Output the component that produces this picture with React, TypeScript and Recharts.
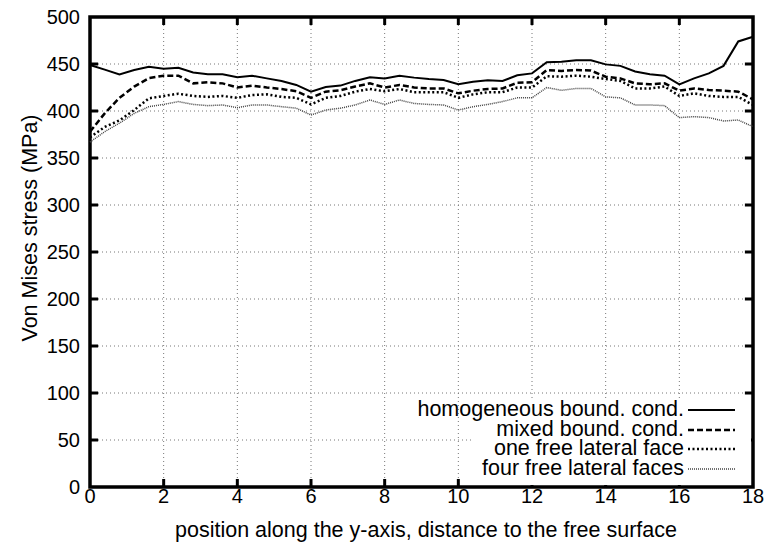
import React from "react";
import {
  LineChart,
  Line,
  XAxis,
  YAxis,
  CartesianGrid,
  ReferenceArea,
  ReferenceLine,
} from "recharts";

// positions along the y-axis (sampling of the curves)
const positions = [
  0, 0.4, 0.8, 1.2, 1.6, 2.0, 2.4, 2.8, 3.2, 3.6, 4.0, 4.4, 4.8, 5.2, 5.6, 6.0,
  6.4, 6.8, 7.2, 7.6, 8.0, 8.4, 8.8, 9.2, 9.6, 10.0, 10.4, 10.8, 11.2, 11.6,
  12.0, 12.4, 12.8, 13.2, 13.6, 14.0, 14.4, 14.8, 15.2, 15.6, 16.0, 16.4, 16.8,
  17.2, 17.6, 18.0,
];

const homogeneous = [
  449, 444, 439, 443.6, 447, 445, 446, 441, 439, 439, 436, 437.5, 434.7, 432,
  427.7, 420.6, 425.5, 427, 432, 436, 434.7, 437.6, 435.5, 434, 433, 428.4, 431,
  432.6, 432, 438, 440, 451.8, 452.5, 454, 454, 449.6, 448, 442, 439, 437.6,
  428.4, 434.7, 440, 448, 474, 479,
];

const mixed = [
  378, 397.5, 414, 426, 435, 437.6, 437.6, 429.4, 430.5, 429.4, 425, 427, 425,
  423.4, 421, 414, 420.6, 422, 426, 429.4, 425, 427.7, 425, 424, 424, 418.8,
  421.6, 423.4, 424, 430, 430.5, 443.6, 442.6, 443.6, 443, 436.5, 434.7, 429.4,
  428.4, 429.4, 421.6, 424, 422.3, 421.6, 420.6, 412.4,
];

const oneFree = [
  372, 383, 390, 401, 413.5, 416, 418.4, 416, 415, 416, 414, 417, 417.7, 415,
  414, 407, 414, 416, 420.6, 423.4, 421, 423.4, 420, 420, 420, 414, 417.7, 420,
  420, 425, 425, 437, 436.5, 437.6, 436.5, 434, 432, 424, 424, 426, 416, 418.8,
  416, 415, 415, 406.4,
];

const fourFree = [
  367, 378, 387, 397.5, 404.6, 407, 410, 407, 405.7, 406.4, 403.5, 406.4, 406.4,
  404.6, 403, 395.7, 401, 403, 406.4, 411.7, 407, 411.7, 408, 407, 406.4, 401,
  404.6, 407, 410, 414, 414, 425, 422, 424, 424, 415, 414, 406.4, 406.4, 405.7,
  393, 394, 393, 389.4, 390.4, 383.3,
];

const xTicks = [0, 2, 4, 6, 8, 10, 12, 14, 16, 18];
const yTicks = [0, 50, 100, 150, 200, 250, 300, 350, 400, 450, 500];

const seriesNames = [
  "homogeneous bound. cond.",
  "mixed bound. cond.",
  "one free lateral face",
  "four free lateral faces",
];

const FONT = "'Liberation Sans', Arial, Helvetica, sans-serif";
const TICK = { fill: "#000", fontSize: 20, fontFamily: FONT };
const LABEL_SIZE = 21.5;

const data = positions.map((x, i) => ({
  x,
  homogeneous: homogeneous[i],
  mixed: mixed[i],
  oneFree: oneFree[i],
  fourFree: fourFree[i],
}));

const LINE_STYLES = [
  { key: "homogeneous", stroke: "#000", width: 2, dash: undefined },
  { key: "mixed", stroke: "#000", width: 2.5, dash: "6 3" },
  { key: "oneFree", stroke: "#000", width: 2.5, dash: "2 2.5" },
  { key: "fourFree", stroke: "#444", width: 1.5, dash: "1 1" },
];

// key box: white patch over the grid, text right-aligned against the samples
function LegendBox() {
  return (
    <>
      <div
        style={{ position: "absolute", left: 472, top: 400, width: 279, height: 85, background: "#fff" }}
      />
      <div
        style={{
          position: "absolute",
          left: 300,
          top: 400,
          width: 450,
          fontFamily: FONT,
          fontSize: LABEL_SIZE,
          color: "#000",
        }}
      >
        {seriesNames.map((name, i) => (
          <div key={name} style={{ display: "flex", alignItems: "center", height: 19.5 }}>
            <div style={{ width: 384, textAlign: "right", whiteSpace: "nowrap", lineHeight: "19.5px" }}>
              {name}
            </div>
            <svg width={50} height={19} style={{ marginLeft: 4, flexShrink: 0 }}>
              <line
                x1={0}
                x2={47}
                y1={10}
                y2={10}
                stroke={LINE_STYLES[i].stroke}
                strokeWidth={LINE_STYLES[i].width}
                strokeDasharray={LINE_STYLES[i].dash}
              />
            </svg>
          </div>
        ))}
      </div>
    </>
  );
}

export default function App() {
  return (
    <div style={{ position: "absolute", left: 0, top: 0, width: 767, height: 545, background: "#fff" }}>
      <LineChart
        width={767}
        height={545}
        data={data}
        margin={{ top: 17, right: 14, bottom: 0, left: 0 }}
      >
        <CartesianGrid stroke="#777" strokeDasharray="1 3" />
        <XAxis
          dataKey="x"
          type="number"
          domain={[0, 18]}
          ticks={xTicks}
          height={58}
          tick={TICK}
          tickLine={false}
          axisLine={false}
          tickSize={0}
          tickMargin={2}
          label={{
            content: () => (
              <text x={426} y={537} textAnchor="middle" fontSize={LABEL_SIZE} fontFamily={FONT} fill="#000">
                position along the y-axis, distance to the free surface
              </text>
            ),
          }}
        />
        <YAxis
          type="number"
          domain={[0, 500]}
          ticks={yTicks}
          width={90}
          tick={TICK}
          tickLine={false}
          axisLine={false}
          tickSize={0}
          tickMargin={10}
          label={{
            content: () => (
              <text
                x={0}
                y={0}
                transform="translate(37 228) rotate(-90)"
                textAnchor="middle"
                fontSize={LABEL_SIZE}
                fontFamily={FONT}
                fill="#000"
              >
                Von Mises stress (MPa)
              </text>
            ),
          }}
        />
        {LINE_STYLES.map((s) => (
          <Line
            key={s.key}
            type="linear"
            dataKey={s.key}
            stroke={s.stroke}
            strokeWidth={s.width}
            strokeDasharray={s.dash}
            dot={false}
            activeDot={false}
            isAnimationActive={false}
          />
        ))}
        {xTicks.slice(1, -1).map((t) => (
          <ReferenceLine key={`b${t}`} segment={[{ x: t, y: 0 }, { x: t, y: 8.5 }]} stroke="#000" strokeWidth={3} />
        ))}
        {xTicks.slice(1, -1).map((t) => (
          <ReferenceLine key={`t${t}`} segment={[{ x: t, y: 500 }, { x: t, y: 491.5 }]} stroke="#000" strokeWidth={3} />
        ))}
        {yTicks.slice(1, -1).map((t) => (
          <ReferenceLine key={`l${t}`} segment={[{ x: 0, y: t }, { x: 0.22, y: t }]} stroke="#000" strokeWidth={3} />
        ))}
        {yTicks.slice(1, -1).map((t) => (
          <ReferenceLine key={`r${t}`} segment={[{ x: 18, y: t }, { x: 17.78, y: t }]} stroke="#000" strokeWidth={3} />
        ))}
        <ReferenceArea x1={0} x2={18} y1={0} y2={500} fill="none" stroke="#000" strokeWidth={3.5} />
      </LineChart>
      <LegendBox />
    </div>
  );
}
